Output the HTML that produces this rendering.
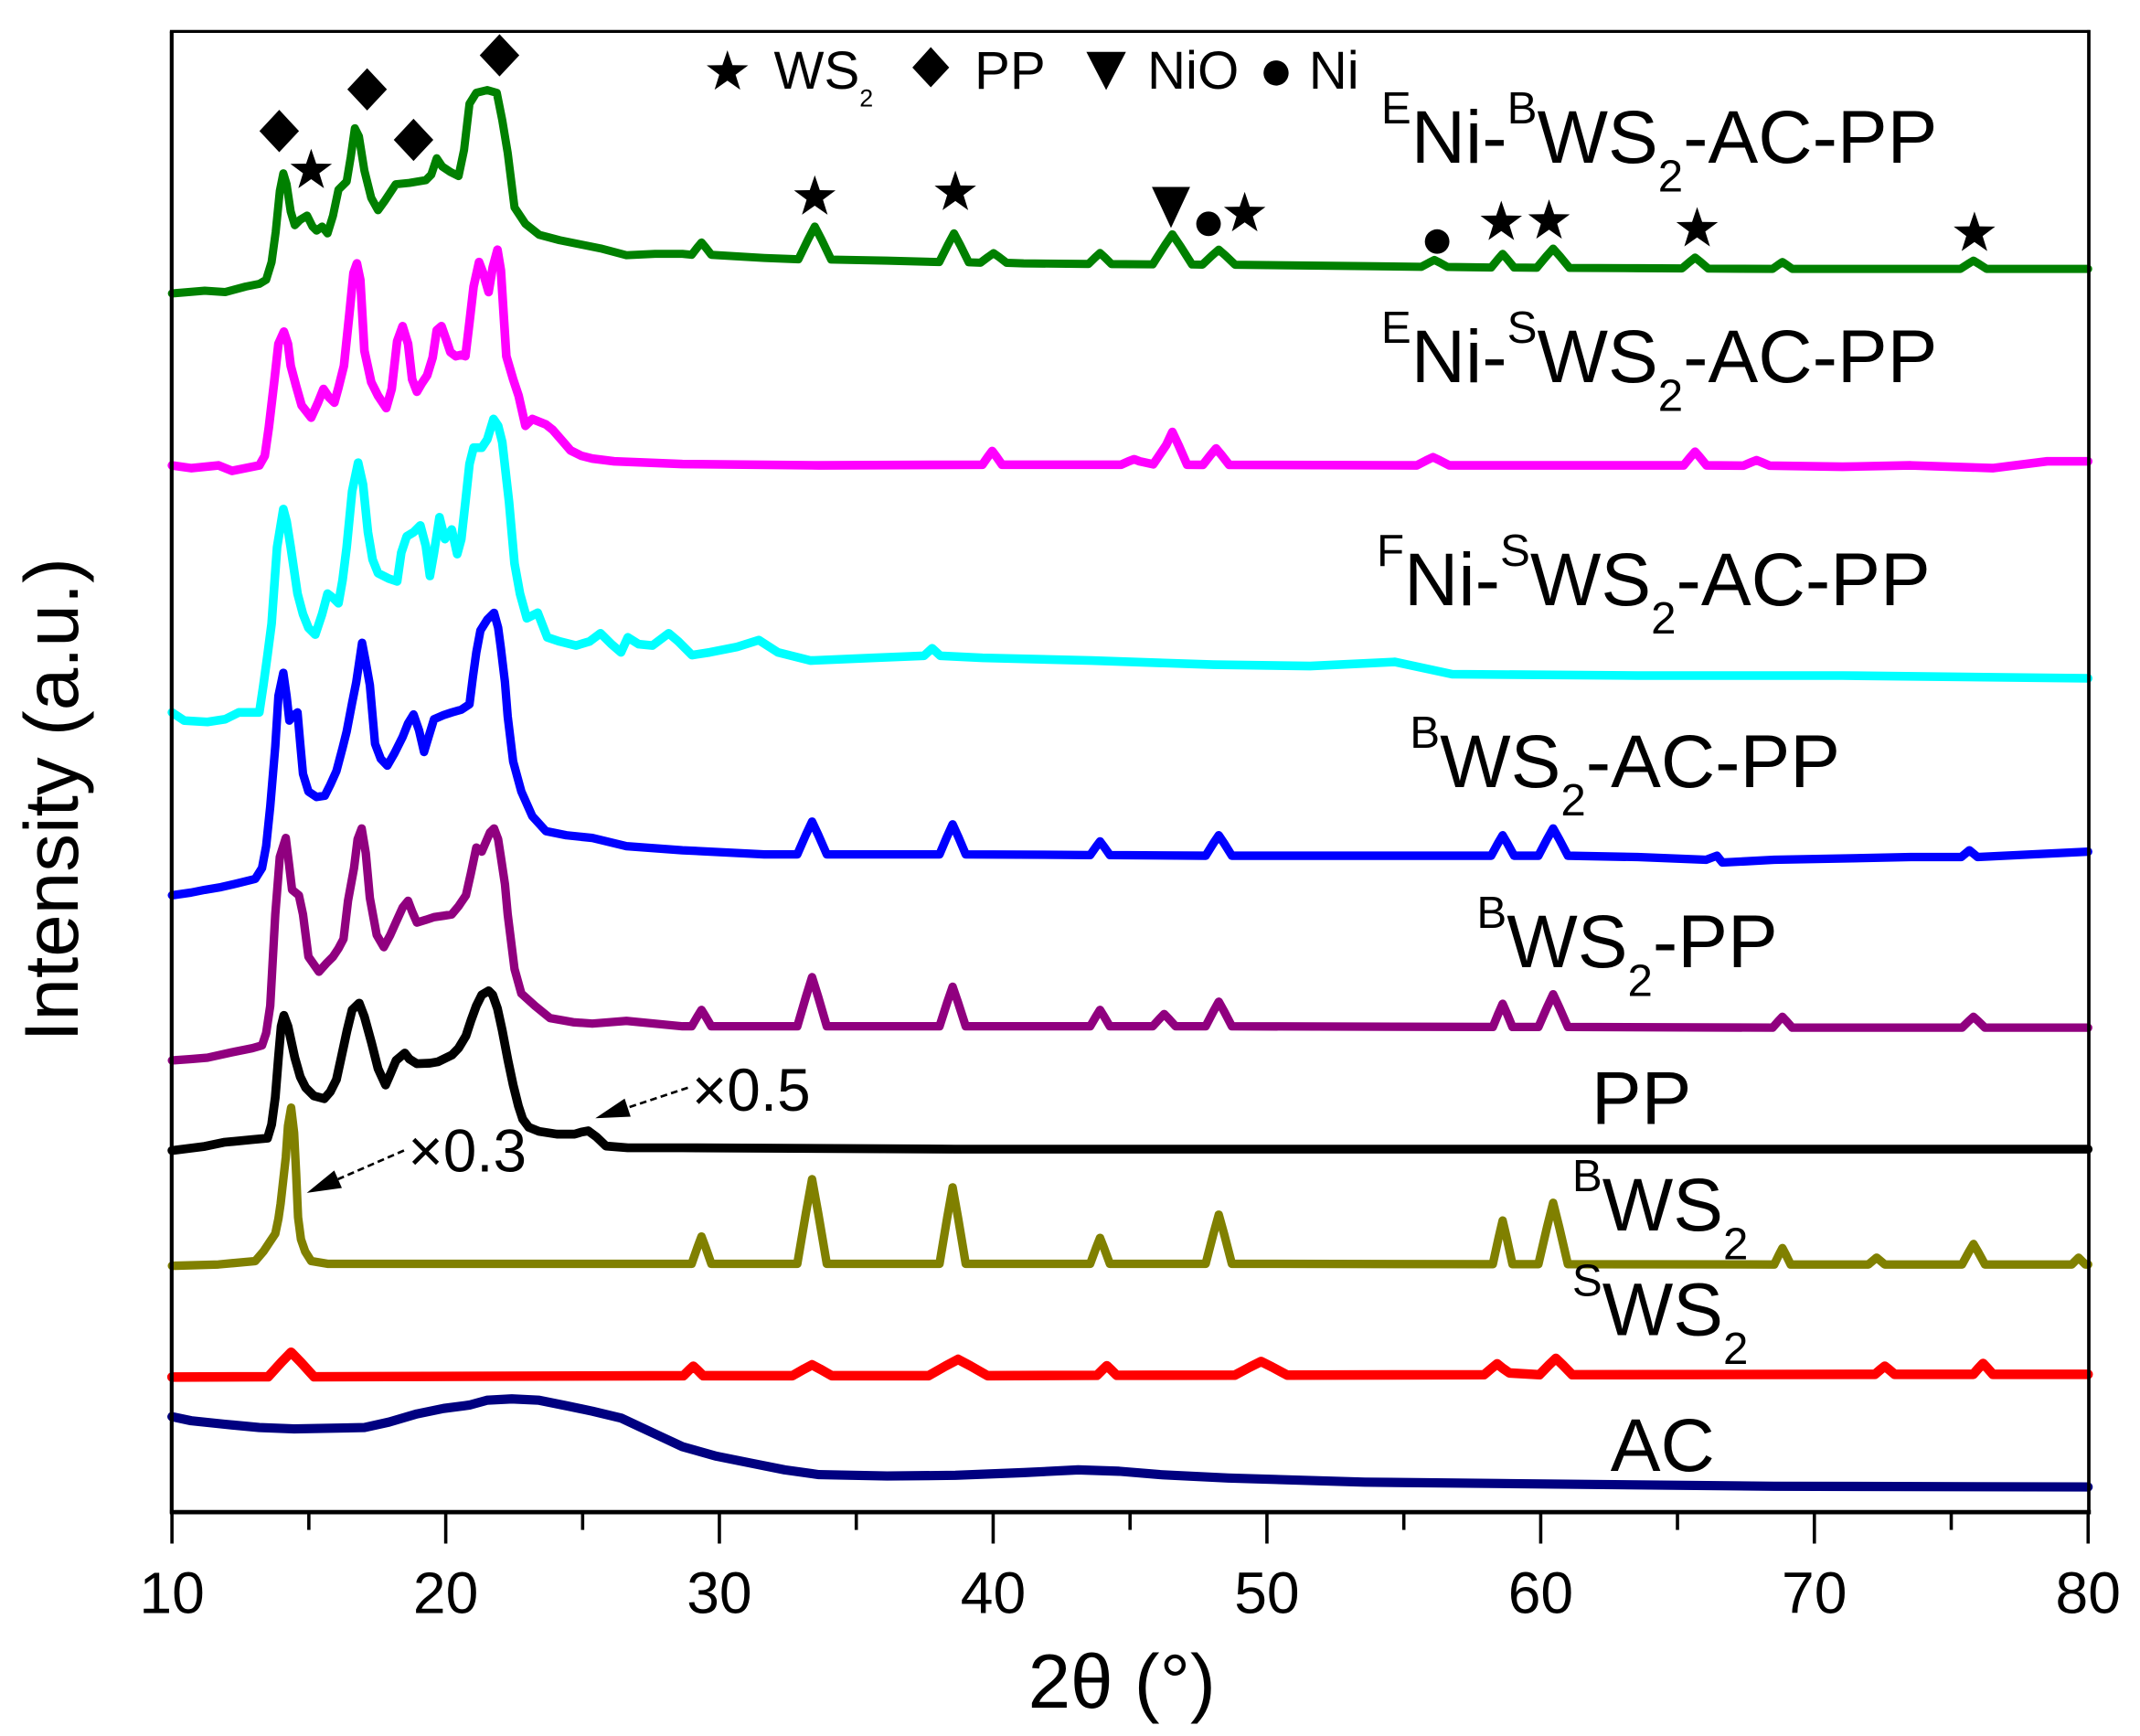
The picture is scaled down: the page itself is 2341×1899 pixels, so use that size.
<!DOCTYPE html>
<html>
<head>
<meta charset="utf-8">
<style>
html,body{margin:0;padding:0;background:#fff;overflow:hidden}
svg{display:block}
</style>
</head>
<body>
<svg xmlns="http://www.w3.org/2000/svg" width="2341" height="1899" viewBox="0 0 1568 1272" preserveAspectRatio="none" font-family="'Liberation Sans', Arial, Helvetica, sans-serif">
<defs>
<polygon id="star" points="0,-16 3.7,-5.1 15.22,-4.94 5.99,1.95 9.4,12.94 0,6.3 -9.4,12.94 -5.99,1.95 -15.22,-4.94 -3.7,-5.1"/>
<polygon id="dia" points="0,-15.5 14.5,0 0,15.5 -14.5,0"/>
</defs>
<rect x="0" y="0" width="1568" height="1272" fill="#fff"/>

<g fill="none" stroke-linejoin="round" stroke-linecap="round">
<!-- AC -->
<polyline stroke="#000080" stroke-width="6.8" points="126,1038 140,1041 164,1043.5 190,1046 215.6,1047 267,1046 285,1042 305.5,1036 325,1032 344,1029.5 356.8,1026 375,1025 395,1026 415,1030 434,1034 455,1039 470,1046 485,1053 500,1060 525,1067 550,1072 575,1077 600,1080.5 650,1081.5 700,1081 750,1079 790,1077 820,1078 850,1080.5 900,1083 1000,1086 1100,1087 1200,1088 1300,1089 1530,1089.5"/>
<!-- S WS2 red -->
<polyline stroke="#ff0000" stroke-width="7" points="126,1009 190,1008.8 196.5,1008.8 206.3,998 213.3,990.8 220.3,998 230.1,1008.8 500.8,1008 505,1003.8 508,1001 511,1003.8 515.2,1008 580.6,1008 589,1003.2 595,1000 601,1003.2 609.4,1008 680.4,1008 693,1000.8 702,996 711,1000.8 723.6,1008 803.8,1007.7 808,1003.5 811,1000.7 814,1003.5 818.2,1007.7 904.8,1007.6 916,1001.6 924,997.6 932,1001.6 943.2,1007.6 1087.4,1007.3 1093,1002.5 1097,999.3 1101,1002.5 1106,1006 1128,1007.3 1135,1000.1 1140,995.3 1145,1000.1 1152,1007.3 1373.8,1007 1378,1003.4 1381,1001 1384,1003.4 1388.2,1007 1445.8,1007 1450,1002.2 1453,999 1456,1002.2 1460.2,1007 1530,1007"/>
<!-- B WS2 olive -->
<polyline stroke="#808000" stroke-width="6.2" points="126,927.5 160,926.5 187,924 193,917 197,911 201.7,904 204,893 205.6,882 207.5,865 209.4,848 211,825 213.3,811.6 215.5,830 217,860 218.4,892 220.5,908 223.6,917 228,924 240,926 400,926 506.8,926 511,914 514,906 517,914 521.2,926 584.2,926 590.5,888.8 595,864 599.5,888.8 605.8,926 688.4,926 694,892.4 698,870 702,892.4 707.6,926 798.8,926 803,914.6 806,907 809,914.6 813.2,926 883.4,926 889,904.4 893,890 897,904.4 902.6,926 1093.8,926.3 1098,907.1 1101,894.3 1104,907.1 1108.2,926.3 1127.2,926.3 1133.5,899.3 1138,881.3 1142.5,899.3 1148.8,926.3 1300,926.5 1303.5,919.3 1306,914.5 1308.5,919.3 1312,926.5 1369,926.5 1375,921.5 1381,926.5 1437.6,926.5 1442.5,917.5 1446,911.5 1449.5,917.5 1454.4,926.5 1518,926.5 1523,921.5 1528,926.5 1530,926.5"/>
<!-- PP black -->
<polyline stroke="#000000" stroke-width="6.5" points="126,843 150,840 164,837 185,835 196,834 199,824 201.7,804 204,775 206,752 208,744 211,752 216,775 220,789 224,797 230,803 237.6,805 242,800 246.5,791 250,775 254.3,755 258,740 263.2,735 267,745 272.2,764 277,783 282.5,795 286,787 290.2,777 296.6,771.6 300,776 305.5,779.4 315,779 320.9,778 331.2,773 336,768 341.4,759 345,748 349,737 353,729 358,726 361,729 364.5,739 368,755 372.2,777 376,795 379.9,810.6 383,820 387.5,826 395,829 408,831 421,831 426,829.5 431,828.6 437,833 444,839.7 460,841 500,841 700,842 1000,842 1530,842"/>
<!-- B WS2-PP purple -->
<polyline stroke="#90007f" stroke-width="6.2" points="126,777 140,776 152,775 170,771 185,768 192,766 195,757 198,737 201.7,670 205,628 209.4,614 212,635 214,652 219,656 222,670 226,701 233.7,712 239,706 244,701 248,695 251.7,688 255,660 259.4,636 262,615 265,607 268,625 271,658 276,685 281.2,694 286,685 290,676 295,665 299,660 302,668 305.5,676 312,674 318,672 325,671 331,670 336,664 341.4,656 345,640 349,621 353,624 356,617 359,610 362,607 365,615 367,628 370,648 372,670 377,710 382,728 392,737 403,746 420,749 434,750 459,748 500,752 506.8,752 511,744.8 514,740 517,744.8 521.2,752 584.2,752 590.5,730.4 595,716 599.5,730.4 605.8,752 688.4,752 694,734.6 698,723 702,734.6 707.6,752 798.8,752 803,744.8 806,740 809,744.8 813.2,752 844.6,752 849.5,746.6 853,743 856.5,746.6 861.4,752 883.4,752 889,741.2 893,734 897,741.2 902.6,752 1093.8,752.5 1098,742.3 1101,735.5 1104,742.3 1108.2,752.5 1127.2,752.5 1133.5,738.1 1138,728.5 1142.5,738.1 1148.8,752.5 1298.8,753 1303,748.2 1306,745 1309,748.2 1313.2,753 1437.6,753 1442.5,748.2 1446,745 1449.5,748.2 1454.4,753 1530,753"/>
<!-- B WS2-AC-PP blue -->
<polyline stroke="#0000ff" stroke-width="6.2" points="126,656 140,654 150,652 162,650 175,647 187,644 192,636 195,620 198,591 201.7,547 204,510 207.6,493 210,510 212,528 215,524 218,522 220,545 222,567 226,580 232,584 238,583 242,575 246.5,565 251,548 254,536 258,515 261,500 265.3,471 268,485 271,502 274.8,545 279,556 283.8,561 289,552 295,540 299,530 303,523.5 307,535 310.7,551 314,540 318,527 325,524 331,522 338,520 344,516 346.5,496 349,478 352,462 357,454 362,449 365,460 367,475 370,500 372,525 376,558 382,580 390,598 400,609 415,612 434,614 459,620 500,623 560,626 584.2,626 590.5,611.6 595,602 599.5,611.6 605.8,626 688.4,626 694,612.8 698,604 702,612.8 707.6,626 798.8,626.5 803,620.5 806,616.5 809,620.5 813.2,626.5 883.4,627 889,618 893,612 897,618 902.6,627 1092.6,627 1097.5,618 1101,612 1104.5,618 1109.4,627 1127.2,627 1133.5,615 1138,607 1142.5,615 1148.8,627 1200,628 1250,630 1258,627 1262,632 1300,630 1400,628 1437,628 1443,623 1449,628 1530,624"/>
<!-- F Ni-S WS2-AC-PP cyan -->
<polyline stroke="#00ffff" stroke-width="6.4" points="126,522 135,528 152,529 165,527 175,522 190,522 193,502 196,480 199,457 203,401 207.6,373 210,382 213,401 218,435 222,450 226,460 231,465 236,450 240,435 244,438 248,442 251,425 254,401 258,360 262.4,339 266,355 269.6,390 273,410 277,420 285,424 291,426 294,405 298,393 303,390 308,385 312,400 315,422 318,405 322,379 326,395 331,388 335,406 338,395 341,368 344,340 347,328 353,328 357,322 361.6,307 365,312 368,324 373,368 377,413 381,435 386,453 394,449 401,467 410,470 422,473 432,470 440,464 448,472 455,478 460,467 468,472 478,473 486,467 490,464 497,470 507,480 520,478 540,474 556,469 570,478 594,484 640,482 677,480.5 683,475 689,480.5 720,482 800,484 889,487 960,488 1022,485 1064,494 1200,495 1350,495 1530,497"/>
<!-- E Ni-S WS2-AC-PP magenta -->
<polyline stroke="#ff00ff" stroke-width="6.4" points="126,341 140,343 160,341 170,345 180,343 190,341 194,334 197,313 201,279 204,252 208,243 211,252 213,268 217,283 221,297 228,306 233,295 237,285 241,291 245,295 248,284 252,268 256,230 259,200 261.5,193 264,205 267,257 272,280 277,290 283,299 287,285 291,250 295,239 299,252 302,278 305.5,287 309,281 313,275 317,262 320,242 323.5,239 327,249 330,258 334,261 338,260 341,261 344,236 347,210 351,192 354,200 358,214 361,196 364.5,183 367,198 369,230 371,261 376,278 380,290 385,312 390,307 395,309 400,311 405,315 412,323 418,330 426,334 434,336 450,338 500,340 600,341 719.8,340.5 724,334.5 727,330.5 730,334.5 734.2,340.5 821.4,340.5 827,338 831,336.5 835,338 845,340.2 854.5,326.1 859,316.5 863.5,326.1 869.8,340.5 881.4,340.6 887,333.4 891,328.6 895,333.4 900.6,340.6 1038,341 1045,337.4 1050,335 1055,337.4 1062,341 1233.6,341 1238.5,335 1242,331 1245.5,335 1250.4,341 1277.4,341.2 1283,338.8 1287,337.2 1291,338.8 1296.6,341.2 1350,342 1400,341 1460,343 1500,338 1530,338"/>
<!-- E Ni-B WS2-AC-PP green -->
<polyline stroke="#008000" stroke-width="6" points="126,215 150,213 165,214 180,210 190,208 195,205 199,192 202,170 205,140 207.6,127 210,135 213,155 216,165 220,161 225,158 229,166 232,169 236,166 240,171 244,158 248,139 254,133 257,115 260,94 263,100 267,125 272,145 277,154 282,147 290,135 300,134 312,132 316,128 320,116 324,122 330,126 336,129 340,110 344,76 349,68 357,66 364,68 368,88 372,112 377,152 385,164 395,172 410,176 425,179 440,182 459,187 480,186 500,186 506.8,186.7 511,181.3 514,177.7 517,181.3 521.2,186.7 560,189 585,190 592,175.6 597,166 602,175.6 609,190.2 650,191 688.2,192 694.5,179.4 699,171 703.5,179.4 709.8,192.2 718.4,192.5 724,188.3 728,185.5 732,188.3 737.6,192.6 750,193 797.6,193.4 802.5,188.6 806,185.4 809.5,188.6 814.4,193.5 844.6,193.7 853,180.5 859,171.7 865,180.5 873.4,193.8 881,193.9 888,187.3 893,182.9 898,187.3 905,194 1000,195 1041.4,195.5 1047,192.5 1051,190.5 1055,192.5 1060.6,195.6 1092.6,196 1097.5,190 1101,186 1104.5,190 1109.4,196 1126,196.2 1133,187.8 1138,182.2 1143,187.8 1150,196.3 1200,196.5 1232.4,196.7 1238,191.9 1242,188.7 1246,191.9 1251.6,196.8 1298.8,197 1303,194 1306,192 1309,194 1313.2,197 1436.4,197 1442,193.4 1446,191 1450,193.4 1455.6,197 1530,197"/>
</g>

<!-- frame -->
<g stroke="#000" fill="none">
<line x1="125.8" y1="23" x2="125.8" y2="1109" stroke-width="2.8"/>
<line x1="124.5" y1="23" x2="1531.5" y2="23" stroke-width="2.2"/>
<line x1="1530.5" y1="22" x2="1530.5" y2="1109" stroke-width="2.5"/>
<line x1="124.5" y1="1108" x2="1532" y2="1108" stroke-width="3.2"/>
<g stroke-width="2.4">
<line x1="126" y1="1108" x2="126" y2="1131"/>
<line x1="326.6" y1="1108" x2="326.6" y2="1131"/>
<line x1="527.1" y1="1108" x2="527.1" y2="1131"/>
<line x1="727.7" y1="1108" x2="727.7" y2="1131"/>
<line x1="928.3" y1="1108" x2="928.3" y2="1131"/>
<line x1="1128.9" y1="1108" x2="1128.9" y2="1131"/>
<line x1="1329.4" y1="1108" x2="1329.4" y2="1131"/>
<line x1="1530" y1="1108" x2="1530" y2="1131"/>
<line x1="226.3" y1="1108" x2="226.3" y2="1121"/>
<line x1="426.9" y1="1108" x2="426.9" y2="1121"/>
<line x1="627.4" y1="1108" x2="627.4" y2="1121"/>
<line x1="828" y1="1108" x2="828" y2="1121"/>
<line x1="1028.6" y1="1108" x2="1028.6" y2="1121"/>
<line x1="1229.1" y1="1108" x2="1229.1" y2="1121"/>
<line x1="1429.7" y1="1108" x2="1429.7" y2="1121"/>
</g>
</g>

<!-- tick labels -->
<g font-size="43" text-anchor="middle" fill="#000">
<text x="126" y="1182">10</text>
<text x="326.6" y="1182">20</text>
<text x="527.1" y="1182">30</text>
<text x="727.7" y="1182">40</text>
<text x="928.3" y="1182">50</text>
<text x="1128.9" y="1182">60</text>
<text x="1329.4" y="1182">70</text>
<text x="1530" y="1182">80</text>
</g>

<!-- axis titles -->
<text x="822" y="1251.4" text-anchor="middle" font-size="56" fill="#000">2θ (°)</text>
<text transform="translate(57,586) rotate(-90)" text-anchor="middle" font-size="56" fill="#000">Intensity (a.u.)</text>

<!-- legend -->
<g fill="#000">
<use href="#star" x="533" y="52.8"/>
<text x="567" y="65" font-size="39">WS<tspan font-size="18" dy="13">2</tspan></text>
<polygon points="682,34.5 695.5,49.5 682,64 668.5,49.5"/>
<text x="714" y="65" font-size="39">PP</text>
<polygon points="796,38 825,38 810.5,66"/>
<text x="840.6" y="65" font-size="39">NiO</text>
<circle cx="935" cy="53.5" r="9.2"/>
<text x="959" y="65" font-size="39">Ni</text>
</g>

<!-- phase markers -->
<g fill="#000">
<use href="#dia" x="204.6" y="96"/>
<use href="#dia" x="269" y="65.5"/>
<use href="#dia" x="303" y="102.5"/>
<use href="#dia" x="366" y="40.5"/>
<use href="#star" x="228" y="125"/>
<use href="#star" x="597" y="144.4"/>
<use href="#star" x="700" y="141"/>
<use href="#star" x="912" y="156.6"/>
<use href="#star" x="1100" y="163"/>
<use href="#star" x="1135" y="162"/>
<use href="#star" x="1243.5" y="167.7"/>
<use href="#star" x="1446.7" y="171"/>
<polygon points="844,137 872,137 858,167"/>
<circle cx="885.5" cy="164" r="9"/>
<circle cx="1053" cy="177" r="9"/>
</g>

<!-- series labels -->
<g fill="#000" font-size="55">
<text x="1012" y="119.4"><tspan font-size="33" dy="-28.8">E</tspan><tspan dy="28.8">Ni-</tspan><tspan font-size="33" dy="-28.8">B</tspan><tspan dy="28.8">WS</tspan><tspan font-size="33" dy="21">2</tspan><tspan dy="-21">-AC-PP</tspan></text>
<text x="1012" y="280"><tspan font-size="33" dy="-28.8">E</tspan><tspan dy="28.8">Ni-</tspan><tspan font-size="33" dy="-28.8">S</tspan><tspan dy="28.8">WS</tspan><tspan font-size="33" dy="21">2</tspan><tspan dy="-21">-AC-PP</tspan></text>
<text x="1008.7" y="443.3"><tspan font-size="33" dy="-28.8">F</tspan><tspan dy="28.8">Ni-</tspan><tspan font-size="33" dy="-28.8">S</tspan><tspan dy="28.8">WS</tspan><tspan font-size="33" dy="21">2</tspan><tspan dy="-21">-AC-PP</tspan></text>
<text x="1033" y="576.6"><tspan font-size="33" dy="-28.8">B</tspan><tspan dy="28.8">WS</tspan><tspan font-size="33" dy="21">2</tspan><tspan dy="-21">-AC-PP</tspan></text>
<text x="1082" y="708.8"><tspan font-size="33" dy="-28.8">B</tspan><tspan dy="28.8">WS</tspan><tspan font-size="33" dy="21">2</tspan><tspan dy="-21">-PP</tspan></text>
<text x="1166" y="823.5">PP</text>
<text x="1152" y="901.6"><tspan font-size="33" dy="-28.8">B</tspan><tspan dy="28.8">WS</tspan><tspan font-size="33" dy="21">2</tspan></text>
<text x="1152" y="978.4"><tspan font-size="33" dy="-28.8">S</tspan><tspan dy="28.8">WS</tspan><tspan font-size="33" dy="21">2</tspan></text>
<text x="1180" y="1077.7">AC</text>
</g>

<!-- annotations -->
<g fill="#000">
<text x="507" y="814" font-size="44">×0.5</text>
<text x="299" y="858.5" font-size="44">×0.3</text>
<line x1="504" y1="797" x2="459.9" y2="811.6" stroke="#000" stroke-width="1.8" stroke-dasharray="5 3"/>
<polygon points="436.2,819.4 462.1,818.2 457.7,805"/>
<line x1="296" y1="843" x2="247.7" y2="864" stroke="#000" stroke-width="1.8" stroke-dasharray="5 3"/>
<polygon points="224.8,874 250.5,870.4 244.9,857.6"/>
</g>
</svg>
</body>
</html>
